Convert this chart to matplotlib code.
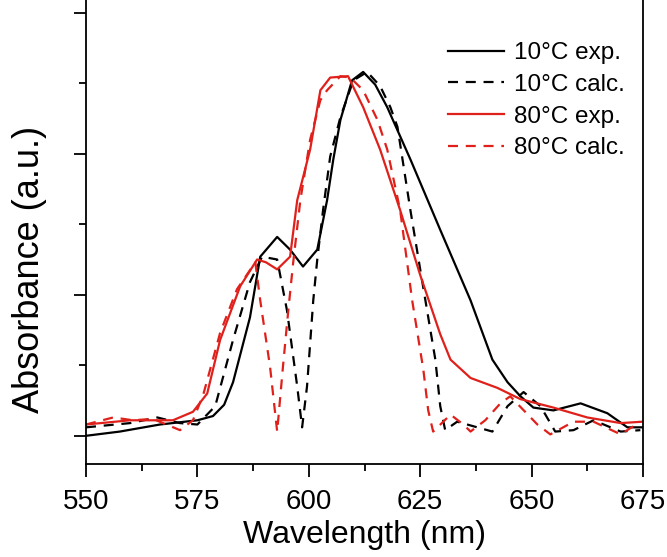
import matplotlib
matplotlib.use("Agg")
import matplotlib.pyplot as plt
from matplotlib.ticker import MultipleLocator, NullFormatter

plt.rcParams['font.family'] = ['Liberation Sans', 'DejaVu Sans']

# 10 C experimental
wl_10_exp = [550, 557.6, 566.6, 575, 578.5, 581, 583, 586.8, 589.1, 592.9, 595.8, 598.7,
             601.9, 604.1, 605.5, 607.1, 609.7, 612.2, 614.9, 617.6, 622.8, 629.5,
             636.3, 641.2, 644.6, 647.5, 650.4, 654.9, 661, 667, 671.5, 674.9]
abs_10_exp = [0.0, 0.03, 0.08, 0.11, 0.14, 0.22, 0.38, 0.84, 1.27, 1.41, 1.32, 1.20,
              1.32, 1.67, 1.96, 2.24, 2.52, 2.58, 2.49, 2.33, 1.96, 1.46,
              0.96, 0.54, 0.38, 0.28, 0.20, 0.18, 0.23, 0.16, 0.06, 0.06]

# 10 C calculated
wl_10_calc = [550, 559.9, 566, 571.1, 575, 579, 583, 586.8, 589.5, 592.9, 595.1,
              597.4, 598.5, 599.6, 601, 601.9, 603.2, 604.8, 607.1, 610, 613.1,
              616, 618.3, 619.9, 622.8, 625, 628.4, 629.5, 630.6, 633.3, 637.8,
              641.2, 644.6, 648.2, 652, 655.3, 659.4, 663.9, 670, 674.4]
abs_10_calc = [0.06, 0.09, 0.13, 0.09, 0.08, 0.21, 0.68, 1.09, 1.27, 1.25, 0.89,
               0.35, 0.06, 0.35, 0.96, 1.25, 1.60, 1.98, 2.26, 2.52, 2.58,
               2.48, 2.33, 2.19, 1.60, 1.18, 0.54, 0.21, 0.04, 0.10, 0.06,
               0.03, 0.21, 0.31, 0.21, 0.03, 0.04, 0.11, 0.03, 0.04]

# 80 C experimental
wl_80_exp = [550, 559.9, 569.5, 574, 577.2, 580.1, 584.6, 588.4, 590.4, 592.9, 595.8,
             597.4, 600.3, 602.6, 604.8, 608.8, 612.2, 616, 620.5, 625, 629.5,
             631.8, 636.3, 642.3, 647.5, 654.9, 662.5, 670, 674.9]
abs_80_exp = [0.08, 0.11, 0.11, 0.17, 0.30, 0.68, 1.06, 1.25, 1.23, 1.18, 1.27,
              1.67, 2.03, 2.45, 2.54, 2.55, 2.33, 2.03, 1.60, 1.14, 0.72,
              0.54, 0.41, 0.34, 0.26, 0.20, 0.13, 0.09, 0.10]

# 80 C calculated
wl_80_calc = [550, 556.1, 560.6, 565, 571.1, 574, 576.3, 580.1, 583.9, 588, 589.1,
              591.3, 592.9, 594.2, 595.4, 596.5, 598.1, 600.3, 602.6, 604.1, 607.1,
              609.3, 612.2, 615.4, 617.6, 620.5, 623.2, 625.7, 626.8, 627.9, 631.8,
              634.7, 636.3, 639.6, 643, 645.2, 651.3, 654.2, 659.4, 663.9, 670, 674.4]
abs_80_calc = [0.08, 0.13, 0.11, 0.12, 0.04, 0.11, 0.29, 0.73, 1.04, 1.23, 0.96,
               0.49, 0.03, 0.49, 0.89, 1.23, 1.67, 2.10, 2.38, 2.45, 2.55,
               2.54, 2.45, 2.24, 2.03, 1.60, 0.96, 0.47, 0.18, 0.03, 0.15,
               0.08, 0.03, 0.11, 0.23, 0.28, 0.08, 0.01, 0.10, 0.10, 0.01, 0.10]

fig = plt.figure(figsize=(6.67, 5.57), dpi=100)
ax = fig.add_axes([86/667, 93/557, 557/667, 464/557])

dash = (0, (4.5, 3.5))
ax.plot(wl_10_exp, abs_10_exp, color='black', lw=1.6, label='10°C exp.')
ax.plot(wl_10_calc, abs_10_calc, color='black', lw=1.6, ls=dash, label='10°C calc.')
ax.plot(wl_80_exp, abs_80_exp, color='#e0201b', lw=1.6, label='80°C exp.')
ax.plot(wl_80_calc, abs_80_calc, color='#e0201b', lw=1.6, ls=dash, label='80°C calc.')

ax.set_xlim(550, 675)
ax.set_ylim(-0.2, 3.09)
ax.xaxis.set_major_locator(MultipleLocator(25))
ax.xaxis.set_minor_locator(MultipleLocator(12.5))
ax.yaxis.set_major_locator(MultipleLocator(1))
ax.yaxis.set_minor_locator(MultipleLocator(0.5))
ax.yaxis.set_major_formatter(NullFormatter())

ax.spines['top'].set_visible(False)
for s in ax.spines.values():
    s.set_linewidth(1.3)
ax.tick_params(which='major', direction='out', length=9, width=1.3, labelsize=20)
ax.tick_params(which='minor', direction='out', length=5, width=1.3)
ax.tick_params(axis='x', pad=9)

ax.set_xlabel('Wavelength (nm)', fontsize=23)
ax.set_ylabel('Absorbance (a.u.)', fontsize=26)
ax.xaxis.set_label_coords(0.5, -0.12)
ax.yaxis.set_label_coords(-0.07, 0.42)

ax.legend(loc='upper right', bbox_to_anchor=(0.985, 0.93), frameon=False, fontsize=17.5,
          handlelength=2.3, handletextpad=0.4, labelspacing=0.4, borderaxespad=0.0)

fig.savefig('out.png', dpi=100)
